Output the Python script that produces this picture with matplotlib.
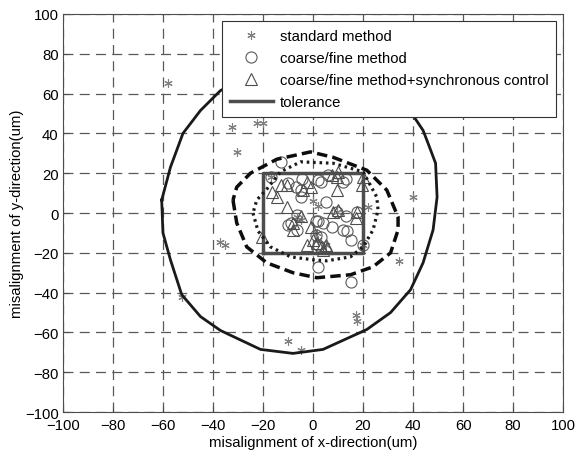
import matplotlib
matplotlib.use('Agg')
import matplotlib.pyplot as plt

plt.rcParams['font.family'] = ['Liberation Sans', 'DejaVu Sans']

# standard method (asterisks)
std_x = [-58, -32.5, -22.5, -20, -30.5, -37, -35, -52.5, -10, -5, 17, 17.5, 34.5, 22, 40,
         0, 2, 9.5, -17, -6.5, -5, 1.5, 2, 5, 20]
std_y = [65.5, 43, 45, 45, 30.7, -14.5, -16, -42, -64.5, -69, -51, -54, -24, 3, 8,
         6, 3.5, 0.7, 18, -2, -3.5, -10, -13.5, -16, -16]

# coarse/fine method (circles)
cf_x = [-13, -17, -10, -7, -5, -5, -4.5, 2, 6, 13, 5, 9.5, 17.5, 13, -6.5, -9, 1, 2, 4,
        -10, -6.5, 1, 3, 2, 13.5, 15, 20, 2, 15, 3, 12, 7.5, 12]
cf_y = [25.7, 18, 15, 13, 11.5, 8, 17, 16.5, 19, 17, 5.7, 0.7, 0.7, -1.5, -1, -5, -4, -4, -5,
        -6, -8.5, -11, -12, -16, -9, -13.5, -16, -27, -34.5, 15.7, 15.7, -7, -8.5]

# coarse/fine method + synchronous control (triangles)
sync_x = [-13, -10.5, -16.5, -14.5, -2.5, -1, -4, -10.5, -5, -8, -1, -2.5, 1.5, 3, 0, 5.5, 4,
          7.5, 9.5, 20, 19.5, 10, 17, 10, 9.5, 17.5, 8, -20.5, -8, 5]
sync_y = [14, 14, 10.7, 8, 15.7, 13, 11.5, 3, -1.5, -5, -7, -16, -15, -17, -13.5, -17.5, -18.5,
          19, 18, 18, 14, 1.5, -2.5, 20.7, 11.5, 0.7, 0.7, -12, -8.5, -16]

# tolerance box
tol_x = [-20, 20, 20, -20, -20]
tol_y = [-20, -20, 20, 20, -20]

# distribution boundaries
big_x = [-60.5, -60, -57, -52.5, -45, -37, -21, -8, 4, 21.5, 31, 39, 44, 48, 49.6, 49, 46, 44,
         40, 30, 18, 5, -8, -20, -30, -37, -45, -52, -57, -60.5]
big_y = [6.5, -10, -23.5, -41, -52, -59, -68.5, -70.5, -68.5, -58.5, -50, -38.5, -25, -8.5, 8,
         25, 35, 41.5, 49, 59, 67, 71, 72, 70, 66, 61.5, 51.5, 40, 23, 6.5]

dash_x = [-32, -30.5, -26.5, -18.5, -8, 1.5, 15, 24, 31, 34, 34, 29.5, 21.5, 8, -1, -14.5,
          -25, -30.5, -32]
dash_y = [6.5, -5, -17, -25, -30, -32.5, -31, -27, -20, -8.5, -2, 11.5, 21.5, 28, 30.7, 27,
          20, 13, 6.5]

dot_x = [-24, -22, -17, -9, 0, 5.5, 15, 20, 24, 26, 25.5, 20, 8, -5, -13, -18.5, -22.5, -24]
dot_y = [0, -9, -17, -22, -23.5, -24, -22, -17, -8.5, 1.5, 8, 20.7, 25, 25.7, 20.7, 12, 6.5, 0]

ticks = list(range(-100, 101, 20))
fs = 10.7

fig = plt.figure(figsize=(5.77, 4.52), dpi=100)
ax = fig.add_axes([0.109, 0.086, 0.867, 0.881])

ax.plot(std_x, std_y, linestyle='none', marker=(6, 2, 0), markersize=6, color='0.5',
        markeredgewidth=0.8, label='standard method')
ax.plot(cf_x, cf_y, linestyle='none', marker='o', markersize=8, markerfacecolor='none',
        markeredgecolor='0.35', markeredgewidth=0.8, label='coarse/fine method')
ax.plot(sync_x, sync_y, linestyle='none', marker='^', markersize=9, markerfacecolor='none',
        markeredgecolor='0.3', markeredgewidth=0.8,
        label='coarse/fine method+synchronous control')
ax.plot(tol_x, tol_y, color='0.3', linewidth=2.5, label='tolerance')

ax.plot(big_x, big_y, color='0.1', linewidth=2)
ax.plot(dash_x, dash_y, color='0.05', linewidth=2.5, linestyle=(0, (3, 1.5)))
ax.plot(dot_x, dot_y, color='0.1', linewidth=2.3, linestyle=(0, (0.8, 1.2)))

ax.set_xlim(-100, 100)
ax.set_ylim(-100, 100)
ax.set_xticks(ticks)
ax.set_yticks(ticks)
ax.tick_params(direction='in', labelsize=fs, length=4, color='0.3')
ax.tick_params(axis='x', pad=4.5)
ax.tick_params(axis='y', pad=3)
ax.grid(True, color='0.35', linestyle=(0, (8, 5)), linewidth=0.9)
for s in ax.spines.values():
    s.set_color('0.3')

ax.set_xlabel('misalignment of x-direction(um)', fontsize=fs, labelpad=2)
ax.set_ylabel('misalignment of y-direction(um)', fontsize=fs, labelpad=1)

leg = ax.legend(loc='upper right', fontsize=fs, handlelength=2.9, fancybox=False,
                framealpha=1, edgecolor='0.2', borderaxespad=0.5, borderpad=0.5,
                handletextpad=0.45, labelspacing=0.55)
leg.get_frame().set_linewidth(0.8)

fig.savefig('out.png', dpi=100)
